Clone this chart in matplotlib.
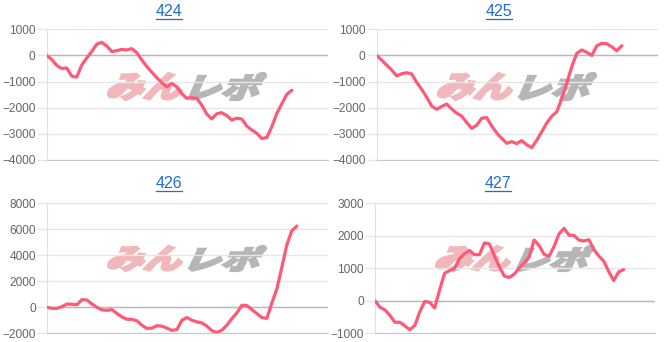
import matplotlib
matplotlib.use('Agg')
import matplotlib.pyplot as plt
from matplotlib.textpath import TextPath
from matplotlib.font_manager import FontProperties
from matplotlib.patches import PathPatch
from matplotlib.transforms import Affine2D
from matplotlib.lines import Line2D

# ---------------- data ----------------
titles = ['424', '425', '426', '427']

s424 = [0, -150, -380, -500, -480, -790, -830, -370, -100, 150,
        430, 500, 360, 150, 180, 230, 210, 260, 110, -170,
        -420, -640, -850, -1040, -1200, -1070, -1200, -1460, -1640, -1620,
        -1640, -1900, -2240, -2430, -2230, -2190, -2300, -2470, -2400, -2430,
        -2700, -2850, -2980, -3180, -3140, -2730, -2220, -1850, -1490, -1330]

s425 = [0, -180, -370, -560, -780, -700, -660, -710, -1030, -1300,
        -1600, -1940, -2060, -1950, -1860, -2050, -2210, -2320, -2570, -2790,
        -2670, -2400, -2380, -2700, -2970, -3170, -3360, -3300, -3370, -3260,
        -3420, -3530, -3240, -2920, -2580, -2330, -2150, -1650, -1070, -430,
        80, 210, 120, 0, 370, 460, 450, 330, 180, 370]

s426 = [0, -80, -80, 50, 250, 230, 200, 590, 560, 250,
        0, -200, -230, -180, -480, -740, -920, -920, -1040, -1380,
        -1630, -1600, -1420, -1450, -1600, -1780, -1710, -990, -790, -1000,
        -1120, -1200, -1450, -1800, -1940, -1760, -1380, -870, -430, 150,
        150, -180, -480, -790, -850, 330, 1400, 3080, 4800, 5890, 6250]

s427 = [0, -200, -280, -450, -660, -660, -770, -890, -760, -340,
        -20, -50, -220, 340, 850, 930, 1000, 1300, 1450, 1550,
        1420, 1420, 1780, 1750, 1390, 1050, 760, 720, 820, 1010,
        1170, 1350, 1870, 1700, 1430, 1370, 1670, 2060, 2230, 2020,
        2010, 1870, 1840, 1880, 1580, 1380, 1220, 900, 620, 890, 960]

series = [s424, s425, s426, s427]
ylims = [(-4000, 1000), (-4000, 1000), (-2000, 8000), (-1000, 3000)]
ysteps = [1000, 1000, 2000, 1000]

# ---------------- layout (pixels, top-origin) ----------------
W, H = 665, 342
boxes = [(46.7, 328.3, 29.3, 160.0),
         (376.7, 658.3, 29.3, 160.0),
         (47.0, 328.3, 203.3, 333.3),
         (375.0, 655.0, 203.3, 333.3)]
title_pos = [(169, 11.5), (499, 11.5), (169, 184), (498, 184)]
wm_boxes = [(107, 73, 100), (437, 73, 100), (107, 246, 271), (435, 246, 271)]

LINE = '#fd5a78'
GRID = '#e6e6e6'
TICKC = '#666666'
TITLEC = '#1c6fd6'

fig = plt.figure(figsize=(W / 100, H / 100), dpi=100)
fig.patch.set_facecolor('white')

wm_font = FontProperties(family='Noto Sans CJK JP', weight='heavy')


def add_wm_text(text, x0, x1, ytop, ybot, color):
    tp = TextPath((0, 0), text, size=40, prop=wm_font)
    sk = Affine2D().skew_deg(18, 0)
    p = sk.transform_path(tp)
    ext = p.get_extents()
    sx = (x1 - x0) / ext.width
    sy = (ybot - ytop) / ext.height
    tr = (Affine2D().translate(-ext.x0, -ext.y0).scale(sx, sy)
          .translate(x0, H - ybot).scale(1 / W, 1 / H))
    p2 = tr.transform_path(p)
    patch = PathPatch(p2, facecolor=color, edgecolor=color, lw=1.6,
                      joinstyle='miter', transform=fig.transFigure, zorder=-1)
    fig.add_artist(patch)


for i in range(4):
    l, r, t, b = boxes[i]
    ax = fig.add_axes([l / W, 1 - b / H, (r - l) / W, (b - t) / H])
    ax.set_facecolor('none')
    ys = series[i]
    xs = list(range(len(ys)))
    ax.set_xlim(0, 56.3)
    lo, hi = ylims[i]
    ax.set_ylim(lo, hi)
    ax.set_yticks(list(range(lo, hi + 1, ysteps[i])))
    ax.set_xticks([])
    ax.yaxis.grid(True, color=GRID, lw=1)
    ax.set_axisbelow(True)
    ax.axhline(0, color='#b8b8b8', lw=1, zorder=1)
    for s in ['top', 'right']:
        ax.spines[s].set_visible(False)
    ax.spines['left'].set_color('#e2e2e2')
    ax.spines['bottom'].set_color('#c8c8c8')
    ax.tick_params(axis='y', length=7, width=1, color=GRID, labelcolor=TICKC,
                   labelsize=8.6, pad=1)
    for lab in ax.get_yticklabels():
        lab.set_fontfamily('Liberation Sans')
    ax.plot(xs, ys, color=LINE, lw=2.3, solid_joinstyle='round',
            solid_capstyle='round', zorder=3)

    # watermark
    wx, wt, wb = wm_boxes[i]
    add_wm_text('みん', wx + 1, wx + 75, wt, wb, '#f1b7bb')
    add_wm_text('レポ', wx + 82, wx + 159, wt, wb, '#b6b6b6')

# titles with underline
title_texts = []
for i in range(4):
    tx, ty = title_pos[i]
    tt = fig.text(tx / W, 1 - ty / H, titles[i], ha='center', va='center',
                  fontsize=11.5, color=TITLEC, family='Liberation Sans')
    title_texts.append(tt)

fig.canvas.draw()
ren = fig.canvas.get_renderer()
for tt in title_texts:
    bb = tt.get_window_extent(ren)
    yline = bb.y0 + 0.5
    fig.add_artist(Line2D([bb.x0 / W, bb.x1 / W], [yline / H, yline / H],
                          transform=fig.transFigure, color=TITLEC, lw=0.9))

fig.savefig('out.png', dpi=100, facecolor='white')
